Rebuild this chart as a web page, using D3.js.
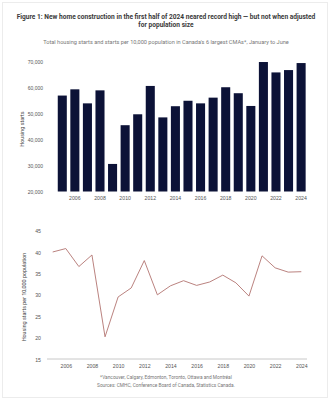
<!DOCTYPE html>
<html>
<head>
<meta charset="utf-8">
<script src="https://cdn.jsdelivr.net/npm/d3@7"></script>
<style>
  body { margin: 0; background: #fff; }
  svg { display: block; font-family: Roboto, "Noto Sans", sans-serif; }
</style>
</head>
<body>
<div id="chart"></div>
<script>
// Data
const years = d3.range(2005, 2025);
const starts = [56900, 59300, 53900, 58900, 30600, 45500, 49700, 60600, 48500, 52800,
  54900, 53900, 56100, 60100, 57800, 52900, 69800, 65800, 66700, 69400];
const perCapita = [40.1, 40.9, 36.7, 39.4, 20.3, 29.6, 31.7, 38.1, 30.1, 32.2,
  33.4, 32.3, 33.1, 34.7, 32.9, 29.8, 39.2, 36.4, 35.4, 35.5];
const yearTicks = [2006, 2008, 2010, 2012, 2014, 2016, 2018, 2020, 2022, 2024];
const startTicks = [20000, 30000, 40000, 50000, 60000, 70000];
const rateTicks = [15, 20, 25, 30, 35, 40, 45];

const width = 333, height = 400;
const svg = d3.select('#chart').append('svg')
  .attr('width', width)
  .attr('height', height);

// card frame
svg.append('rect')
  .attr('x', 2.5).attr('y', 2.5)
  .attr('width', 325).attr('height', 395)
  .attr('fill', '#fff')
  .attr('stroke', '#ececec');

// titles
const title = svg.append('text')
  .attr('text-anchor', 'middle')
  .attr('fill', '#3a3a3a')
  .attr('font-size', 6.6)
  .attr('font-weight', 'bold');
title.append('tspan').attr('x', 166).attr('y', 19)
  .text('Figure 1: New home construction in the first half of 2024 neared record high — but not when adjusted');
title.append('tspan').attr('x', 166).attr('y', 27)
  .text('for population size');

svg.append('text')
  .attr('x', 166).attr('y', 44)
  .attr('text-anchor', 'middle')
  .attr('fill', '#777')
  .attr('font-size', 5.6)
  .text('Total housing starts and starts per 10,000 population in Canada\'s 6 largest CMAs*, January to June');

// bar chart
const xBar = d3.scaleBand()
  .domain(years)
  .range([56, 307.4])
  .paddingInner(0.28)
  .paddingOuter(0.14);
const yBar = d3.scaleLinear()
  .domain([20000, 70000])
  .range([191.5, 61.5]);

svg.append('g')
  .selectAll('rect')
  .data(starts)
  .join('rect')
  .attr('x', (d, i) => xBar(years[i]))
  .attr('y', d => yBar(d))
  .attr('width', xBar.bandwidth())
  .attr('height', d => yBar(20000) - yBar(d))
  .attr('fill', '#0c1237');

const yBarAxis = svg.append('g')
  .attr('transform', 'translate(43,0)')
  .call(d3.axisLeft(yBar).tickValues(startTicks).tickSize(0).tickPadding(0).tickFormat(d3.format(',')));
yBarAxis.select('.domain').remove();
yBarAxis.selectAll('text').attr('font-size', 5).attr('fill', '#555').attr('font-family', null);

const xBarAxis = svg.append('g')
  .attr('transform', 'translate(0,194)')
  .call(d3.axisBottom(xBar).tickValues(yearTicks).tickSize(0).tickPadding(2));
xBarAxis.select('.domain').remove();
xBarAxis.selectAll('text').attr('font-size', 5.2).attr('fill', '#555').attr('font-family', null);

svg.append('text')
  .attr('transform', 'translate(24,129) rotate(-90)')
  .attr('text-anchor', 'middle')
  .attr('font-size', 5.4)
  .attr('fill', '#444')
  .text('Housing starts');

// line chart
const xLine = d3.scaleLinear()
  .domain([2005, 2024])
  .range([52.7, 301.3]);
const yLine = d3.scaleLinear()
  .domain([15, 45])
  .range([359.5, 231]);

const xLineAxis = svg.append('g')
  .attr('transform', 'translate(0,359)')
  .call(d3.axisBottom(xLine).tickValues(yearTicks).tickSize(0).tickPadding(5).tickFormat(d3.format('d')));
xLineAxis.select('.domain').attr('d', 'M47,0H307').attr('stroke', '#c8c8c8');
xLineAxis.selectAll('text').attr('font-size', 5.2).attr('fill', '#555').attr('font-family', null);

const yLineAxis = svg.append('g')
  .attr('transform', 'translate(41,0)')
  .call(d3.axisLeft(yLine).tickValues(rateTicks).tickSize(0).tickPadding(0));
yLineAxis.select('.domain').remove();
yLineAxis.selectAll('text').attr('font-size', 5.2).attr('fill', '#555').attr('font-family', null);

svg.append('path')
  .datum(perCapita)
  .attr('fill', 'none')
  .attr('stroke', '#b27470')
  .attr('stroke-width', 0.9)
  .attr('d', d3.line().x((d, i) => xLine(years[i])).y(d => yLine(d)));

svg.append('text')
  .attr('transform', 'translate(26,297) rotate(-90)')
  .attr('text-anchor', 'middle')
  .attr('font-size', 5.4)
  .attr('fill', '#444')
  .text('Housing starts per 10,000 population');

// footnotes
svg.append('text')
  .attr('x', 166).attr('y', 379)
  .attr('text-anchor', 'middle')
  .attr('font-size', 4.8)
  .attr('fill', '#777')
  .text('*Vancouver, Calgary, Edmonton, Toronto, Ottawa and Montréal');
svg.append('text')
  .attr('x', 166).attr('y', 387)
  .attr('text-anchor', 'middle')
  .attr('font-size', 4.8)
  .attr('fill', '#777')
  .text('Sources: CMHC, Conference Board of Canada, Statistics Canada.');
</script>
</body>
</html>
